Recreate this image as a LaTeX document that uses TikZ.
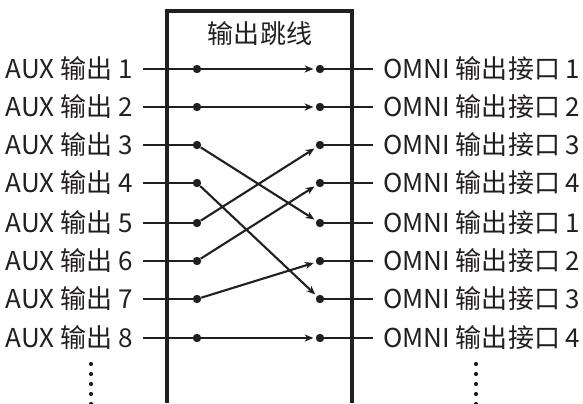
\documentclass[tikz,border=0pt]{standalone}
\usepackage{fontspec}
\setmainfont{Noto Sans CJK SC}
\usetikzlibrary{arrows.meta,positioning,calc}
\definecolor{ink}{HTML}{231F20}

\begin{document}
\begin{tikzpicture}[
  x=0.025cm, y=-0.025cm,
  >={Stealth[length=0.22cm,width=0.18cm]},
  font=\fontsize{18.5}{22}\selectfont,
  lbl/.style={inner ysep=0pt,inner xsep=0.25cm,text=ink},
  pin/.style={circle,fill=ink,inner sep=0pt,minimum size=0.21cm},
  wire/.style={draw=ink,line width=1.5pt},
  arr/.style={->,draw=ink,line width=1.5pt,shorten >=1.5pt},
  frame/.style={draw=ink,line width=2.8pt},
  vdots/.style={draw=ink,line width=3pt,line cap=round,dash pattern=on 0pt off 0.25cm}
]
  \useasboundingbox (0,0) rectangle (583,403);

  % patch panel frame, open at the bottom
  \draw[frame] (167,403) -- (167,11) -- (352,11) -- (352,403);
  \node[text=ink] (title) at (260,34) {输出跳线};

  % left and right rows
  \foreach \i/\y/\n in {1/69/1,2/107/2,3/145/3,4/183/4,5/223/1,6/261/2,7/299/3,8/338/4}{
    \node[lbl,anchor=east] (aux\i) at (143,\y) {AUX 输出 \i};
    \node[lbl,anchor=west] (omni\i) at (373,\y) {OMNI 输出接口 \n};
    \node[pin] (in\i) at (197,\y) {};
    \node[pin] (out\i) at (320,\y) {};
    \draw[wire] (aux\i.east) -- (in\i);
    \draw[wire] (out\i) -- (omni\i.west);
  }

  % patching
  \foreach \a/\b in {1/1,2/2,3/5,4/7,5/3,6/4,7/6,8/8}
    \draw[arr] (in\a) -- (out\b);

  % continuation dots
  \coordinate (ldots) at (91,364);
  \coordinate (rdots) at (476,364);
  \draw[vdots] (ldots) -- ++(0,45);
  \draw[vdots] (rdots) -- ++(0,45);
\end{tikzpicture}
\end{document}
